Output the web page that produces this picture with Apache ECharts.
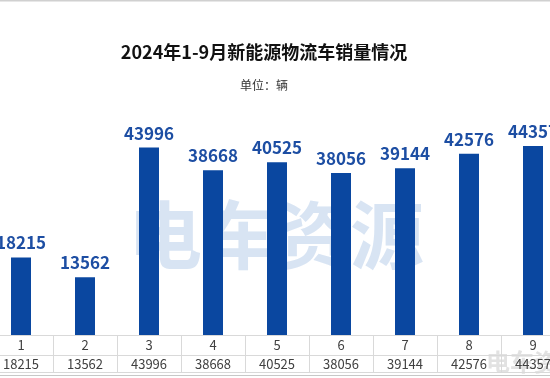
<!DOCTYPE html>
<html>
<head>
<meta charset="utf-8">
<script src="https://cdn.jsdelivr.net/npm/echarts@6/dist/echarts.min.js"></script>
<style>html,body{margin:0;padding:0;background:#fff;overflow:hidden;width:550px;height:378px;}#c{width:576px;height:378px;margin-left:-11px;}</style>
</head>
<body>
<div id="c"></div>
<script>
var months = ['1','2','3','4','5','6','7','8','9'];
var sales = [18215, 13562, 43996, 38668, 40525, 38056, 39144, 42576, 44357];
var titleText = '2024年1-9月新能源物流车销量情况';
var unitText = '单位：辆';
var watermarkText = '电车资源';

var chart = echarts.init(document.getElementById('c'));
var font = '"Noto Sans CJK SC", "Noto Sans", sans-serif';
var gridLine = '#d9d9d9';
var dx = 11;
chart.setOption({
  animation: false,
  backgroundColor: '#fff',
  textStyle: {fontFamily: font},
  title: [
    {text: titleText, left: 259 + dx, textAlign: 'center', top: 38, textStyle: {fontSize: 18, fontWeight: 'bold', color: '#111', fontFamily: font}},
    {text: unitText, left: 259 + dx, textAlign: 'center', top: 74, textStyle: {fontSize: 12, fontWeight: 'normal', color: '#333', fontFamily: font}}
  ],
  graphic: [
    {type: 'line', shape: {x1: 0, y1: 0.5, x2: 576, y2: 0.5}, style: {stroke: '#d0d0d0', lineWidth: 2}, z: 0},
    {type: 'text', left: 128 + dx, top: 198, z: 0, style: {text: watermarkText, fontSize: 74, fontWeight: 'bold', fill: 'rgba(190,210,235,0.6)', fontFamily: font}},
    {type: 'text', left: 486 + dx, top: 350, z: 0, style: {text: watermarkText, fontSize: 24, fontWeight: 'bold', fill: 'rgba(160,160,160,0.3)', fontFamily: font}},
    {type: 'line', shape: {x1: 0, y1: 372.5, x2: 576, y2: 372.5}, style: {stroke: gridLine, lineWidth: 1}, z: 5},
    {type: 'line', shape: {x1: 0, y1: 375.5, x2: 576, y2: 375.5}, style: {stroke: '#c8c8c8', lineWidth: 1}, z: 5}
  ],
  grid: {left: 0, right: 0, top: 122, bottom: 43},
  xAxis: [
    {
      type: 'category', data: months, position: 'bottom',
      axisLine: {lineStyle: {color: gridLine}},
      axisTick: {show: true, interval: 0, length: 37, lineStyle: {color: gridLine}},
      axisLabel: {color: '#404040', fontSize: 13, margin: 4, fontFamily: font}
    },
    {
      type: 'category', data: sales.map(String), position: 'bottom', offset: 20,
      axisLine: {lineStyle: {color: gridLine}},
      axisTick: {show: false},
      axisLabel: {color: '#404040', fontSize: 13, margin: 3, fontFamily: font}
    }
  ],
  yAxis: {type: 'value', min: 0, max: 50000, show: false, splitLine: {show: false}},
  series: [{
    type: 'bar', data: sales, barWidth: 20, z: 2,
    itemStyle: {color: '#0a47a0'},
    label: {show: true, position: 'top', distance: 6, fontSize: 17, fontWeight: 'bold', color: '#1d4ea3', fontFamily: font}
  }]
});
</script>
</body>
</html>
